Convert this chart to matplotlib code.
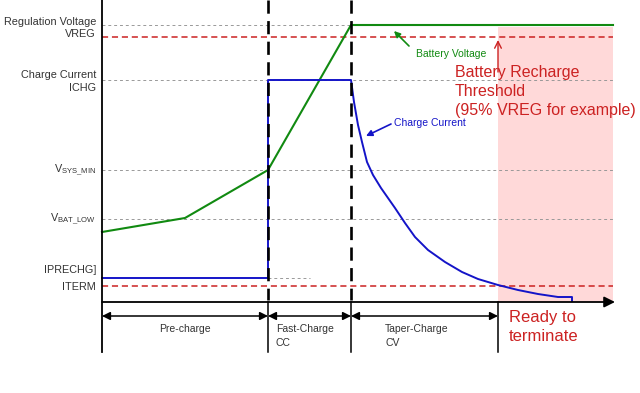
import matplotlib.pyplot as plt
from matplotlib.patches import Rectangle

plt.rcParams['font.family'] = ['Liberation Sans', 'DejaVu Sans']
plt.rcParams['mathtext.fontset'] = 'custom'
plt.rcParams['mathtext.rm'] = 'Liberation Sans'

# levels (arbitrary units, 0 = time axis)
lvl_vreg = 277
lvl_recharge = 265
lvl_ichg = 222
lvl_vsys_min = 132
lvl_vbat_low = 83
lvl_iprechg = 24
lvl_iterm = 16

# phase boundaries on the time axis
t_start = 0
t_fast = 166
t_taper = 249
t_term = 396
t_end = 511

# battery voltage
volt_t = [0, 83, 166, 249, 511]
volt_v = [70, 84, 132, 277, 277]

# charge current
curr_t = [0, 166, 166, 249, 252, 256, 260, 265, 271, 279, 293, 303, 313, 326,
          343, 360, 376, 396, 416, 436, 456, 470, 470]
curr_i = [24, 24, 222, 222, 200, 177, 160, 140, 127, 114, 94, 79, 65, 52,
          40, 30, 23, 17, 12, 8, 5, 5, 1]

phase_names = ["Pre-charge", "Fast-Charge\nCC", "Taper-Charge\nCV"]

left_labels = [("Regulation Voltage", 280), ("VREG", 268),
               ("Charge Current", 227), ("ICHG", 214),
               (r"V$_{\rm SYS\_MIN}$", 132), (r"V$_{\rm BAT\_LOW}$", 83),
               ("IPRECHG]", 32), ("ITERM", 15)]

green = "#118a11"
blue = "#1414c8"
red = "#cc2222"
gray = "#999999"

fig = plt.figure(figsize=(6.4, 3.93), dpi=100)
ax = fig.add_axes([0, 0, 1, 1])
ax.set_xlim(-102, 538)
ax.set_ylim(-91, 302)
ax.axis("off")

# ready to terminate zone
ax.add_patch(Rectangle((t_term, 0), t_end - t_term, 275, color="#ffd9d9", lw=0, zorder=0))

# reference levels
for lv in [lvl_vreg, lvl_ichg, lvl_vsys_min, lvl_vbat_low]:
    ax.plot([t_start, t_end], [lv, lv], color=gray, lw=0.7, dashes=(3, 3), zorder=1)
ax.plot([t_fast, 208], [lvl_iprechg, lvl_iprechg], color=gray, lw=0.7, dashes=(3, 3), zorder=1)
for lv in [lvl_recharge, lvl_iterm]:
    ax.plot([t_start, t_end], [lv, lv], color=red, lw=1.1, dashes=(4, 2.5), zorder=2)

# curves
ax.plot(volt_t, volt_v, color=green, lw=1.5, zorder=3)
ax.plot(curr_t, curr_i, color=blue, lw=1.4, zorder=3)

# phase dividers
for t in [t_fast, t_taper]:
    ax.plot([t, t], [302, 2], color="black", lw=1.9, dashes=(5, 2.8), zorder=4)
for t in [t_fast, t_taper, t_term]:
    ax.plot([t, t], [0, -50], color="black", lw=1.1, zorder=4)
ax.plot([t_start, t_start], [302, -50], color="black", lw=1.3, zorder=4)

# time axis
ax.annotate("", xy=(t_end + 2, 0), xytext=(t_start, 0),
            arrowprops=dict(arrowstyle="-|>", color="black", lw=1.3,
                            mutation_scale=16, shrinkA=0, shrinkB=0), zorder=4)

# phase arrows
bounds = [t_start, t_fast, t_taper, t_term]
for a, b in zip(bounds[:-1], bounds[1:]):
    ax.annotate("", xy=(b, -14), xytext=(a, -14),
                arrowprops=dict(arrowstyle="<|-|>", color="black", lw=1.1,
                                mutation_scale=12, shrinkA=0, shrinkB=0))
ax.text((t_start + t_fast) / 2, -27, phase_names[0], ha="center", va="center",
        fontsize=7.5, color="#333333")
ax.text(t_fast + 8, -22, phase_names[1], ha="left", va="top", fontsize=7.5,
        linespacing=1.5, color="#333333")
ax.text(t_taper + 34, -22, phase_names[2], ha="left", va="top", fontsize=7.5,
        linespacing=1.5, color="#333333")
ax.text(t_term + 11, -8, "Ready to\nterminate", ha="left", va="top", fontsize=12,
        color=red, linespacing=1.3)

# left labels
for txt, y in left_labels:
    ax.text(-6, y, txt, ha="right", va="center", fontsize=7.8, color="#333333")

# annotations
ax.text(349, 248, "Battery Voltage", ha="center", va="center", fontsize=7.5, color=green)
ax.annotate("", xy=(292, 271), xytext=(307, 256),
            arrowprops=dict(arrowstyle="-|>", color=green, lw=1.2, mutation_scale=9,
                            shrinkA=0, shrinkB=0))
ax.text(328, 179, "Charge Current", ha="center", va="center", fontsize=7.5, color=blue)
ax.annotate("", xy=(264, 166), xytext=(289, 178),
            arrowprops=dict(arrowstyle="-|>", color=blue, lw=1.2, mutation_scale=9,
                            shrinkA=0, shrinkB=0))
ax.annotate("", xy=(t_term, 262), xytext=(t_term, 230),
            arrowprops=dict(arrowstyle="->", color=red, lw=1.0, mutation_scale=12,
                            shrinkA=0, shrinkB=0))
ax.text(353, 237, "Battery Recharge\nThreshold\n(95% VREG for example)", ha="left", va="top",
        fontsize=11.5, color=red, linespacing=1.35)

fig.savefig("out.png", dpi=100)
